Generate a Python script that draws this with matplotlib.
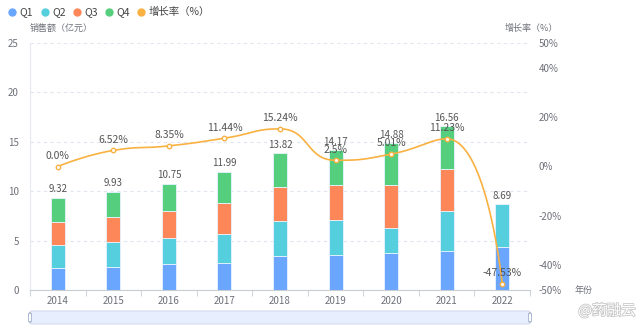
import matplotlib
matplotlib.use('Agg')
import matplotlib.pyplot as plt
import matplotlib.patheffects as pe
from matplotlib.patches import FancyBboxPatch
import numpy as np

plt.rcParams['font.family'] = ['Noto Sans CJK SC', 'DejaVu Sans']

# data
years = ['2014', '2015', '2016', '2017', '2018', '2019', '2020', '2021', '2022']
q1 = [2.20, 2.36, 2.60, 2.70, 3.44, 3.51, 3.71, 3.98, 4.38]
q2 = [2.32, 2.50, 2.66, 2.93, 3.54, 3.58, 2.60, 4.02, 4.31]
q3 = [2.33, 2.56, 2.74, 3.14, 3.41, 3.51, 4.29, 4.21, 0.0]
q4 = [2.47, 2.51, 2.75, 3.22, 3.43, 3.57, 4.28, 4.35, 0.0]
totals = [9.32, 9.93, 10.75, 11.99, 13.82, 14.17, 14.88, 16.56, 8.69]
growth = [0.0, 6.52, 8.35, 11.44, 15.24, 2.5, 5.01, 11.23, -47.53]
growth_lbl = ['0.0%', '6.52%', '8.35%', '11.44%', '15.24%', '2.5%', '5.01%', '11.23%', '-47.53%']
right_ticks = [-50, -40, -20, 0, 20, 40, 50]

series_names = ['Q1', 'Q2', 'Q3', 'Q4', '增长率（%）']
colors = ['#6aa6fe', '#55cfdd', '#fe875a', '#55cf7e']
line_color = '#f9b142'
txt_gray = '#6e7079'
grid_col = '#e0e6f1'


def smooth_line(xs, ys, sm=0.5):
    # bezier smoothing like echarts: control points kept inside neighbours' box
    n = len(xs)
    cin = [None] * n
    cout = [None] * n
    for i in range(1, n - 1):
        x, y = xs[i], ys[i]
        px, py = xs[i - 1], ys[i - 1]
        nx, ny = xs[i + 1], ys[i + 1]
        vx, vy = nx - px, ny - py
        l0 = np.hypot(x - px, y - py)
        l1 = np.hypot(nx - x, ny - y)
        r = l1 / (l0 + l1)
        ncx = x + vx * sm * r
        ncy = y + vy * sm * r
        ncx = min(max(ncx, min(nx, x)), max(nx, x))
        ncy = min(max(ncy, min(ny, y)), max(ny, y))
        vx, vy = ncx - x, ncy - y
        cx = x - vx * l0 / l1
        cy = y - vy * l0 / l1
        cx = min(max(cx, min(px, x)), max(px, x))
        cy = min(max(cy, min(py, y)), max(py, y))
        vx, vy = x - cx, y - cy
        ncx = x + vx * l1 / l0
        ncy = y + vy * l1 / l0
        cin[i] = (cx, cy)
        cout[i] = (ncx, ncy)
    cout[0] = (xs[0], ys[0])
    cin[n - 1] = (xs[n - 1], ys[n - 1])
    t = np.linspace(0, 1, 50)[:, None]
    ox, oy = [], []
    for i in range(n - 1):
        p0 = np.array([xs[i], ys[i]]); p3 = np.array([xs[i + 1], ys[i + 1]])
        p1 = np.array(cout[i]); p2 = np.array(cin[i + 1])
        b = (1 - t) ** 3 * p0 + 3 * (1 - t) ** 2 * t * p1 + 3 * (1 - t) * t ** 2 * p2 + t ** 3 * p3
        ox.extend(b[:, 0]); oy.extend(b[:, 1])
    return np.array(ox), np.array(oy)


fig = plt.figure(figsize=(6.4, 3.32), dpi=100)
ax = fig.add_axes([30 / 640, 42 / 332, 500 / 640, 247 / 332])

x = np.arange(len(years))
w = 0.25
bottom = np.zeros(len(years))
for vals, c in zip([q1, q2, q3, q4], colors):
    v = np.array(vals)
    ax.bar(x, v, w, bottom=bottom, color=c, edgecolor='#e8f3ff', linewidth=0.6, zorder=2)
    bottom = bottom + v
for xi, t in zip(x, totals):
    ax.text(xi, t + 0.35, '%.2f' % t, ha='center', va='bottom', fontsize=7, color='#555555', zorder=5)

ax.set_xlim(-0.5, len(years) - 0.5)
ax.set_ylim(0, 25)
ax.set_yticks([0, 5, 10, 15, 20, 25])
ax.set_xticks(x)
ax.set_xticklabels(years)
ax.set_xticks(np.arange(-0.5, len(years), 1), minor=True)
ax.tick_params(axis='x', which='major', length=0, labelsize=7, colors=txt_gray, pad=4)
ax.tick_params(axis='x', which='minor', length=4, color='#c8ccd4', direction='out')
ax.tick_params(axis='y', length=0, labelsize=7, colors=txt_gray, pad=8)
ax.yaxis.grid(True, linestyle=(0, (3, 3)), color=grid_col, linewidth=0.8)
ax.set_axisbelow(True)
for s in ['top', 'right']:
    ax.spines[s].set_visible(False)
ax.spines['left'].set_color('#e6e9ef')
ax.spines['bottom'].set_color('#c8ccd4')

# growth line on right axis
ax2 = ax.twinx()
ax2.set_ylim(-50, 50)
ax2.set_yticks(right_ticks)
ax2.set_yticklabels(['%d%%' % t for t in right_ticks])
ax2.tick_params(axis='y', length=0, labelsize=7, colors=txt_gray, pad=6)
for s in ax2.spines.values():
    s.set_visible(False)

# smoothing done in pixel units (55.6 px per category, 2.47 px per %)
kx, ky = 55.6, 2.47
sx, sy = smooth_line(x * kx, np.array(growth) * ky)
ax2.plot(sx / kx, sy / ky, color=line_color, linewidth=1.2, zorder=4)
ax2.plot(x, growth, 'o', ms=3.2, mfc='white', mec=line_color, mew=1.0, zorder=5)
for xi, g, lb in zip(x, growth, growth_lbl):
    ax2.text(xi, g + 2.3, lb, ha='center', va='bottom', fontsize=7.5, color='#555555', zorder=6)

# axis names
fig.text(30 / 640, 1 - 28 / 332, '销售额（亿元）', fontsize=6.5, color=txt_gray, ha='left', va='center')
fig.text(558 / 640, 1 - 28 / 332, '增长率（%）', fontsize=6.5, color=txt_gray, ha='right', va='center')
fig.text(575 / 640, 1 - 290 / 332, '年份', fontsize=6.5, color=txt_gray, ha='left', va='center')

# legend, placed by hand
leg_x = [12, 45, 77, 109, 141]
for lx, name, c in zip(leg_x, series_names, colors + [line_color]):
    fig.lines.append(plt.Line2D([lx / 640], [1 - 12 / 332], marker='o', ms=5, color=c,
                                transform=fig.transFigure))
    fig.text((lx + 7.5) / 640, 1 - 12 / 332, name, fontsize=7.5, color='#444444', ha='left', va='center')

# data zoom slider
fig.patches.append(FancyBboxPatch((30 / 640, 1 - 324 / 332), 500 / 640, 13 / 332,
                                  boxstyle='round,pad=0,rounding_size=0.004', transform=fig.transFigure,
                                  facecolor='#e7efff', edgecolor='#d2dbee', linewidth=0.8))
for hx in [30 / 640, 530 / 640]:
    fig.patches.append(FancyBboxPatch((hx - 1.5 / 640, 1 - 322 / 332), 3 / 640, 9 / 332,
                                      boxstyle='round,pad=0,rounding_size=0.003', transform=fig.transFigure,
                                      facecolor='white', edgecolor='#acb8d1', linewidth=0.7))

# watermark
fig.text(636 / 640, 1 - 311 / 332, '@药融云', fontsize=10.5, color='white', ha='right', va='center',
         path_effects=[pe.withStroke(linewidth=1.2, foreground='#c8c8c8')])

fig.savefig('out.png', dpi=100)
